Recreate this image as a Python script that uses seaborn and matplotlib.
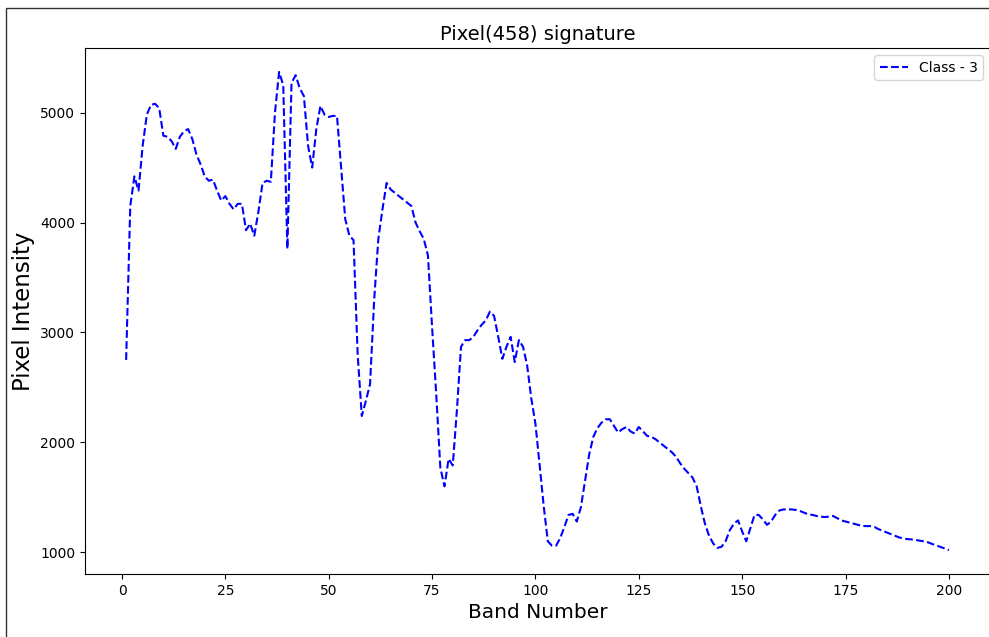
import numpy as np
import pandas as pd
import matplotlib.pyplot as plt
import seaborn as sns
from matplotlib.patches import Rectangle

# band numbers and pixel intensities
bands = list(range(1, 201))
intensity = [
    2750, 4150, 4420, 4290, 4700, 4980, 5070, 5080, 5040, 4790,
    4780, 4740, 4670, 4780, 4830, 4850, 4760, 4620, 4530, 4420,
    4380, 4390, 4290, 4200, 4240, 4170, 4120, 4170, 4170, 3930,
    3990, 3880, 4100, 4360, 4380, 4370, 5000, 5370, 5250, 3760,
    5270, 5340, 5220, 5150, 4700, 4500, 4850, 5060, 4980, 4960,
    4970, 4970, 4500, 4030, 3880, 3840, 2800, 2240, 2380, 2530,
    3300, 3850, 4120, 4360, 4300, 4270, 4240, 4210, 4180, 4150,
    4000, 3920, 3850, 3700, 3050, 2440, 1770, 1600, 1850, 1790,
    2290, 2870, 2930, 2930, 2960, 3020, 3070, 3110, 3190, 3150,
    2960, 2760, 2870, 2960, 2730, 2930, 2870, 2700, 2400, 2170,
    1800, 1420, 1100, 1060, 1060, 1130, 1230, 1340, 1350, 1280,
    1410, 1650, 1890, 2050, 2130, 2180, 2210, 2210, 2150, 2090,
    2120, 2140, 2100, 2080, 2140, 2100, 2060, 2050, 2030, 2000,
    1970, 1940, 1910, 1870, 1810, 1760, 1720, 1680, 1600, 1420,
    1260, 1150, 1080, 1040, 1050, 1100, 1200, 1260, 1290, 1190,
    1100, 1220, 1340, 1340, 1300, 1250, 1280, 1340, 1380, 1390,
    1390, 1390, 1385, 1375, 1360, 1345, 1340, 1330, 1325, 1320,
    1325, 1330, 1310, 1290, 1280, 1270, 1260, 1250, 1240, 1238,
    1238, 1230, 1210, 1195, 1180, 1165, 1150, 1135, 1125, 1120,
    1117, 1112, 1105, 1100, 1090, 1075, 1062, 1050, 1035, 1020,
]
pixel_id = 458
class_label = "Class - 3"

df = pd.DataFrame({"Band": bands, "Intensity": intensity})

plt.rcParams["font.family"] = ["DejaVu Sans"]

fig = plt.figure(figsize=(9.89, 6.37), dpi=100)
# axes box in pixels: left 85, top 48, bottom 574, right just past the edge
ax = fig.add_axes([85 / 989, 1 - 574 / 637, 905 / 989, 526 / 637])

sns.lineplot(
    data=df,
    x="Band",
    y="Intensity",
    ax=ax,
    color="blue",
    linestyle="--",
    linewidth=1.5,
    label=class_label,
)

ax.set_title(f"Pixel({pixel_id}) signature", fontsize=14)
ax.set_xlabel("Band Number", fontsize=14.5)
ax.set_ylabel("Pixel Intensity", fontsize=16.5)
ax.tick_params(labelsize=10)
ax.set_xticks([0, 25, 50, 75, 100, 125, 150, 175, 200])
ax.set_yticks([1000, 2000, 3000, 4000, 5000])
ax.legend(loc="upper right", fontsize=10)

# frame of the original screenshot
fig.patches.append(
    Rectangle((6 / 989, -0.1), 2, (637 - 8) / 637 + 0.1,
              transform=fig.transFigure, fill=False,
              edgecolor="#333333", linewidth=1)
)

plt.savefig("out.png", dpi=100)
plt.close()
